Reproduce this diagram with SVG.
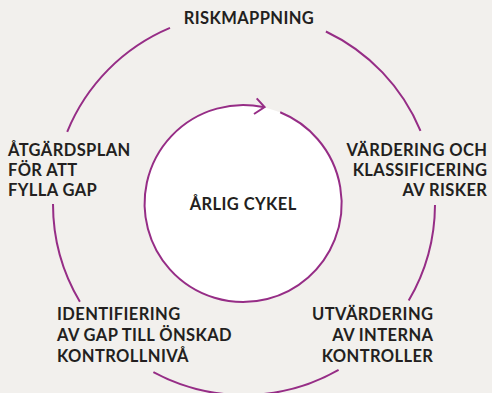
<svg xmlns="http://www.w3.org/2000/svg" width="492" height="393" viewBox="0 0 492 393">
<style>
.arc{fill:none;stroke:#962d86;stroke-width:2;stroke-linecap:butt}
.t{font-family:Lato,"Liberation Sans",sans-serif;font-weight:700;font-size:16.5px;letter-spacing:0.4px;fill:#231f20}
</style>
<rect width="492" height="393" fill="#f2f0ed"/>
<g id="connectors">
<path class="arc" d="M325.9,31.5 A191 191 0 0 1 420.5,130.9"/>
<path class="arc" d="M435,205 A191 191 0 0 1 408.7,300.6"/>
<path class="arc" d="M338.6,369.9 A191 191 0 0 1 153.4,372.2"/>
<path class="arc" d="M79.9,301.8 A191 191 0 0 1 53,204"/>
<path class="arc" d="M67.2,131.8 A191 191 0 0 1 170,27.9"/>
</g>
<g id="cycle">
<circle cx="243" cy="203.5" r="98.5" fill="#ffffff"/>
<path class="arc" d="M280.2,112.3 A98.5 98.5 0 1 1 263.1,107.1"/>
<path class="arc" d="M256.7,98.3 L264.6,107 L254,114"/>
<text class="t" x="243.2" y="210" text-anchor="middle">ÅRLIG CYKEL</text>
</g>
<g id="riskmappning">
<text class="t" x="249" y="24" text-anchor="middle">RISKMAPPNING</text>
</g>
<g id="vardering">
<text class="t" text-anchor="end"><tspan x="487.4" y="156">VÄRDERING OCH</tspan><tspan x="487.4" y="176">KLASSIFICERING</tspan><tspan x="487.4" y="196">AV RISKER</tspan></text>
</g>
<g id="utvardering">
<text class="t" text-anchor="end"><tspan x="433.4" y="320">UTVÄRDERING</tspan><tspan x="433.4" y="341">AV INTERNA</tspan><tspan x="433.4" y="362">KONTROLLER</tspan></text>
</g>
<g id="identifiering">
<text class="t"><tspan x="57" y="320">IDENTIFIERING</tspan><tspan x="57" y="341">AV GAP TILL ÖNSKAD</tspan><tspan x="57" y="362">KONTROLLNIVÅ</tspan></text>
</g>
<g id="atgardsplan">
<text class="t"><tspan x="8" y="156">ÅTGÄRDSPLAN</tspan><tspan x="8" y="176">FÖR ATT</tspan><tspan x="8" y="196">FYLLA GAP</tspan></text>
</g>
</svg>
